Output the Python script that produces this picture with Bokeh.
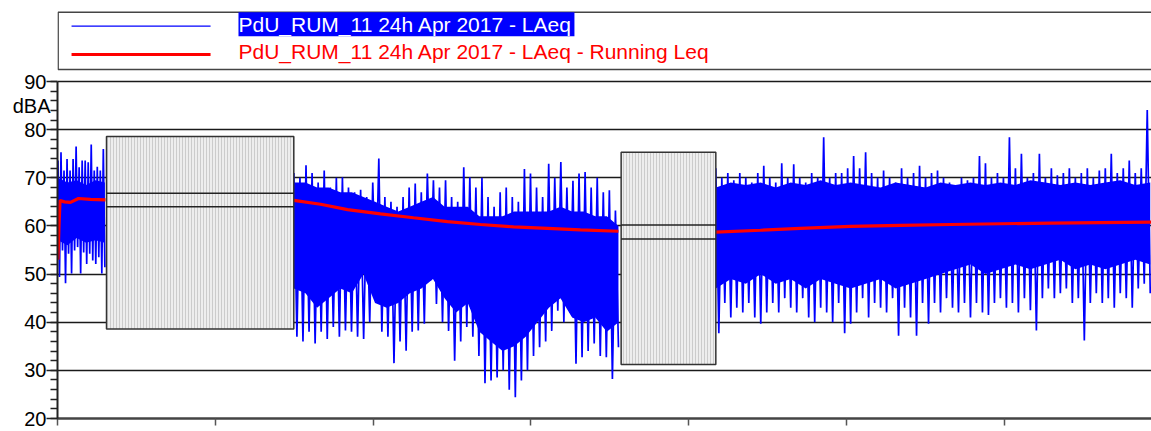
import numpy as np
from bokeh.plotting import figure
from bokeh.models import FixedTicker, LinearAxis
from bokeh.core.properties import value
from bokeh.embed import file_html
from bokeh.resources import INLINE

FONT = "Liberation Sans"

# ---------------- data (time in hours from start, level in dBA) ----------------
# Segment A (before first excluded interval)
A_t = [0.003, 0.300]
A_hi = [73.6, 75.3, 71.5, 73.9, 71.5, 73.9, 76.5, 72.2, 73.6, 73.6, 73.2, 76.9, 71.5, 72.3, 71.5, 76.0]
A_lo = [49.4, 54.9, 48.1, 54.2, 50.1, 54.9, 55.6, 50.1, 54.5, 52.1, 54.2, 52.8, 52.1, 53.5, 50.1, 51.4]
A_core_hi = [70.0, 69.0, 69.5, 68.5, 69.5, 69.0]
A_core_lo = [57.0, 56.0, 57.5, 56.5, 57.0, 56.5]

# Segment B
B_t = [1.498, 3.555]
B_hi = [71, 70, 72.6, 71, 69, 71.5, 68, 70, 70.1, 68, 67, 67.5, 66, 69, 74, 66, 65, 64, 66, 68,
        68.8, 67, 70.9, 69.5, 68, 69.5, 66, 65, 72.2, 70.1, 68, 70, 66, 64, 67, 68, 66, 65,
        71.8, 70.9, 68, 66, 72.9, 70, 73.3, 68, 69.4, 70.9, 71.2, 68, 70, 67, 67.4, 63.2]
B_lo = [37, 36, 38, 35.6, 38, 36.5, 39, 37, 38.3, 38, 37, 36.5, 40, 47, 38, 37, 31.5, 36, 34.1, 38,
        38.3, 39.7, 48.6, 43.8, 40, 38.2, 32, 36, 39, 37, 33, 27.3, 27.9, 28.5, 30, 26, 24.4, 27.9,
        30, 33, 34.8, 36, 38.2, 42.4, 40, 42, 31.4, 32.7, 34, 35.6, 33, 32.7, 28.2, 34.8]
B_core_hi = [69, 69, 68, 68, 67, 67, 66, 65, 64, 63, 64, 65, 66, 64, 64, 64, 62, 62, 62, 63,
             63, 63, 63, 64, 63, 63, 62, 62, 60]
B_core_lo = [47, 46, 43, 45, 47, 46, 50, 44, 43, 44, 46, 47, 49, 45, 42, 44, 38, 36, 34, 35,
             37, 40, 43, 45, 41, 40, 41, 38, 40]

# Segment C
C_t = [4.172, 6.925]
C_hi = [72, 70, 71, 69.5, 71, 70, 69, 71, 72.5, 70, 69, 73, 70, 72.8, 70, 69, 71, 70, 78.4, 70,
        71, 71, 72,
        74.5, 72, 75.3, 71, 70, 71.5, 70, 69, 72, 70, 71, 72.5, 70, 71, 71.5, 70, 69, 68, 70, 69.5,
        70, 74.5, 73, 70, 71, 70, 78.4, 72, 75, 70, 71, 75, 70, 72, 70.5, 71, 72, 70, 71, 72, 70,
        71.5, 72, 75, 71, 72, 73.6, 71, 72, 84.1]
C_lo = [37.7, 44, 41, 43, 42, 44, 41, 39.7, 42, 44, 42, 45, 43, 42, 45, 41, 40, 43, 42, 40,
        44, 37.7, 39.7,
        42, 45, 41, 44, 43, 42, 45, 37.2, 43, 41, 37.2, 44, 39.7, 44, 42, 45, 43, 42, 44, 41,
        44, 42, 41.5, 44, 45, 43, 44, 42, 45, 42.5, 38.3, 45, 47, 45, 46, 47, 44, 45, 36.2, 44,
        46, 44, 45, 43, 46, 45, 43, 47, 48, 46]
C_core_hi = [68, 69, 68.5, 69, 68, 69, 68.5, 69.5, 68.5, 69, 68.5, 68, 69, 68.5, 68, 69, 68.5, 69,
             68.5, 69, 68.5, 69.5, 69, 68.5, 69, 68.5, 69, 69.5, 68.5, 69]
C_core_lo = [47, 49, 48, 50, 48, 49, 47, 49, 48, 47, 48, 49, 47, 48, 49, 50, 51, 52, 50, 51,
             52, 51, 52, 53, 51, 52, 51, 52, 53, 52]

# Running Leq
RA_t = [0.003, 0.0095, 0.016, 0.044, 0.082, 0.133, 0.209, 0.304]
RA_v = [53.0, 60.0, 65.3, 65.0, 64.9, 65.7, 65.5, 65.4]
RB_t = [1.498, 1.667, 1.838, 2.047, 2.256, 2.471, 2.681, 2.890, 3.105, 3.314, 3.555]
RB_v = [65.3, 64.5, 63.4, 62.5, 61.7, 60.9, 60.3, 59.8, 59.5, 59.2, 58.9]
RC_t = [4.172, 4.455, 4.708, 5.025, 5.342, 5.659, 5.976, 6.293, 6.610, 6.933]
RC_v = [58.7, 59.1, 59.5, 59.9, 60.1, 60.3, 60.45, 60.6, 60.7, 60.8]

# Excluded (masked) intervals
box_start = [0.3105, 3.572]
box_end = [1.4975, 4.172]
box_max = [78.6, 75.3]
box_min = [38.6, 31.2]
box_l1 = [66.8, 60.2]
box_l2 = [64.0, 57.3]

y_ticks = [20, 30, 40, 50, 60, 70, 80, 90]
y_minor = list(range(20, 91, 2))
x_ticks = [0, 1, 2, 3, 4, 5, 6]

legend_1 = "PdU_RUM_11 24h Apr 2017 - LAeq"
legend_2 = "PdU_RUM_11 24h Apr 2017 - LAeq - Running Leq"
y_unit = "dBA"
y_unit_at = 85

# ---------------- figure ----------------
p = figure(width=1151, height=431, x_range=(0, 6.933), y_range=(20, 106.825),
           output_backend="svg", toolbar_location=None,
           min_border_left=57, min_border_right=0, min_border_top=0, min_border_bottom=13)
p.outline_line_color = None
p.background_fill_color = "white"
p.border_fill_color = "white"

# axes
yax = p.yaxis[0]
yax.ticker = FixedTicker(ticks=y_ticks, minor_ticks=y_minor)
yax.bounds = (20, 90)
yax.axis_line_color = "#222222"
yax.axis_line_width = 2
yax.major_tick_out = 11
yax.major_tick_in = 0
yax.minor_tick_out = 7
yax.minor_tick_in = 0
yax.major_tick_line_color = "#222222"
yax.major_tick_line_width = 1.5
yax.minor_tick_line_color = "#222222"
yax.minor_tick_line_width = 1.5
yax.major_label_standoff = 0
yax.major_label_text_font = FONT
yax.major_label_text_font_size = "20px"
yax.major_label_text_color = "black"

# unit label "dBA" (a second, line-less axis carrying one label)
uax = LinearAxis(ticker=FixedTicker(ticks=[y_unit_at], minor_ticks=[]),
                 major_label_overrides={y_unit_at: y_unit},
                 axis_line_color=None, major_tick_line_color=None, minor_tick_line_color=None,
                 major_tick_out=0, major_tick_in=0, minor_tick_out=0, minor_tick_in=0,
                 major_label_standoff=-29,
                 major_label_text_font=FONT, major_label_text_font_size="20px",
                 major_label_text_color="black")
p.add_layout(uax, "left")

xax = p.xaxis[0]
xax.ticker = FixedTicker(ticks=x_ticks, minor_ticks=[])
xax.major_label_overrides = {t: "" for t in x_ticks}
xax.major_label_text_font_size = "0px"
xax.major_label_standoff = 0
xax.major_tick_out = 7
xax.major_tick_in = 0
xax.minor_tick_line_color = None
xax.major_tick_line_color = "#555555"
xax.major_tick_line_width = 1.5
xax.axis_line_color = "#444444"
xax.axis_line_width = 2.5

p.xgrid.visible = False
p.ygrid.ticker = FixedTicker(ticks=y_ticks)
p.ygrid.grid_line_color = "#1a1a1a"
p.ygrid.grid_line_width = 1.5

BLUE = "#0000ff"
RED = "#ff0000"


def zigzag(trange, hi, lo):
    n = len(hi)
    t = np.linspace(trange[0], trange[1], 2 * n)
    y = np.empty(2 * n)
    y[0::2] = hi
    y[1::2] = lo
    return t, y


for trange, hi, lo, chi, clo in [(A_t, A_hi, A_lo, A_core_hi, A_core_lo),
                                 (B_t, B_hi, B_lo, B_core_hi, B_core_lo),
                                 (C_t, C_hi, C_lo, C_core_hi, C_core_lo)]:
    tc = np.linspace(trange[0], trange[1], len(chi))
    p.varea(x=tc, y1=clo, y2=chi, fill_color=BLUE)
    tz, yz = zigzag(trange, hi, lo)
    p.line(tz, yz, line_color=BLUE, line_width=1.7)

for rt, rv in [(RA_t, RA_v), (RB_t, RB_v), (RC_t, RC_v)]:
    p.line(rt, rv, line_color=RED, line_width=3.2)

# masked intervals
p.quad(left=box_start, right=box_end, top=box_max, bottom=box_min,
       fill_color="#eeeeee", hatch_pattern="vertical_line", hatch_color="#cccccc",
       hatch_scale=3, hatch_weight=1,
       line_color="#333333", line_width=1.5)
p.segment(x0=box_start, x1=box_end, y0=box_l1, y1=box_l1, line_color="#222222", line_width=1.5)
p.segment(x0=box_start, x1=box_end, y0=box_l2, y1=box_l2, line_color="#222222", line_width=1.5)

# legend (drawn in the area above the 90 dB line)
p.quad(left=[0.004], right=[7.5], top=[104.4], bottom=[92.49],
       fill_color="white", line_color="#444444", line_width=1.5)
p.line([0.089, 0.970], [101.49, 101.49], line_color=BLUE, line_width=1.2)
p.line([0.089, 0.970], [95.61, 95.61], line_color=RED, line_width=3.2)
p.quad(left=[1.147], right=[3.276], top=[104.39], bottom=[99.41], fill_color=BLUE, line_color=None)
p.text(x=[1.147], y=[101.9], text=[legend_1], text_color="white",
       text_font=value(FONT), text_font_size="21px", text_baseline="alphabetic", text_align="left")
p.text(x=[1.147], y=[96.13], text=[legend_2], text_color=RED,
       text_font=value(FONT), text_font_size="21px", text_baseline="alphabetic", text_align="left")

open("out.html", "w").write(file_html(p, INLINE))
